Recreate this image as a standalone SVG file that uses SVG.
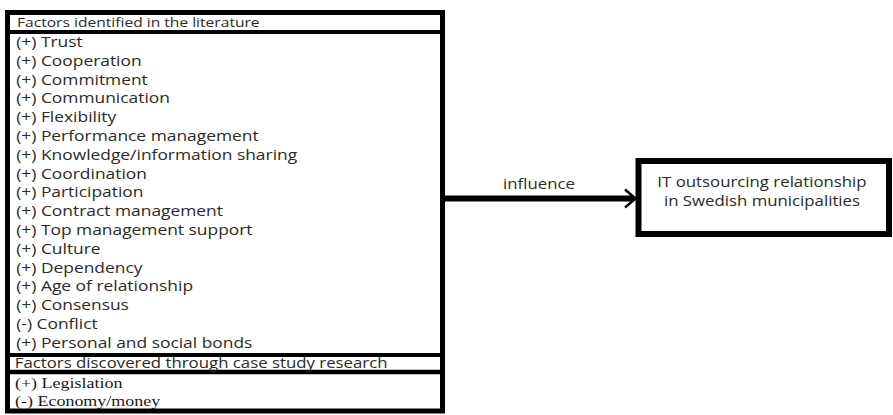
<svg xmlns="http://www.w3.org/2000/svg" width="893" height="415" viewBox="0 0 893 415">
<style>
.box{fill:#fff;stroke:#000}
.t{font-family:"Open Sans",sans-serif;font-size:14.5px;fill:#2b2b2b}
.h{font-family:"Open Sans",sans-serif;font-size:14px;fill:#2b2b2b}
.h1{font-family:"Open Sans",sans-serif;font-size:13px;fill:#2b2b2b}
.s{font-family:"Liberation Serif",serif;font-size:15px;fill:#1a1a1a}
</style>
<rect width="893" height="415" fill="#fff"/>
<g id="factors">
<rect class="box" x="7.5" y="12.5" width="435" height="398.5" stroke-width="5"/>
<line x1="8" y1="32" x2="442" y2="32" stroke="#000" stroke-width="4"/>
<line x1="8" y1="355" x2="442" y2="355" stroke="#000" stroke-width="4"/>
<line x1="8" y1="372" x2="442" y2="372" stroke="#000" stroke-width="4.5"/>
<g transform="scale(1.2 1)">
<text class="h1" x="14.2" y="27">Factors identified in the literature</text>
<text class="t" x="13.5" y="47">(+) Trust</text>
<text class="t" x="13.5" y="65.8">(+) Cooperation</text>
<text class="t" x="13.5" y="84.6">(+) Commitment</text>
<text class="t" x="13.5" y="103.4">(+) Communication</text>
<text class="t" x="13.5" y="122.2">(+) Flexibility</text>
<text class="t" x="13.5" y="141">(+) Performance management</text>
<text class="t" x="13.5" y="159.8">(+) Knowledge/information sharing</text>
<text class="t" x="13.5" y="178.6">(+) Coordination</text>
<text class="t" x="13.5" y="197.4">(+) Participation</text>
<text class="t" x="13.5" y="216.2">(+) Contract management</text>
<text class="t" x="13.5" y="235">(+) Top management support</text>
<text class="t" x="13.5" y="253.8">(+) Culture</text>
<text class="t" x="13.5" y="272.6">(+) Dependency</text>
<text class="t" x="13.5" y="291.4">(+) Age of relationship</text>
<text class="t" x="13.5" y="310.2">(+) Consensus</text>
<text class="t" x="13.5" y="329">(-) Conflict</text>
<text class="t" x="13.5" y="347.8">(+) Personal and social bonds</text>
<text class="h" x="12.3" y="368.5">Factors discovered through case study research</text>
<text class="s" x="12.5" y="388">(+) Legislation</text>
<text class="s" x="12.5" y="406">(-) Economy/money</text>
</g>
</g>
<g id="connectors">
<line x1="444" y1="198.5" x2="634" y2="198.5" stroke="#000" stroke-width="6"/>
<polyline points="625,189.5 635.5,198.5 625,207.5" fill="none" stroke="#000" stroke-width="2.5"/>
<text class="h" x="449.2" y="189" text-anchor="middle" transform="scale(1.2 1)">influence</text>
</g>
<g id="outcome">
<rect class="box" x="638.5" y="161" width="250.5" height="73" stroke-width="6"/>
<g transform="scale(1.2 1)">
<text class="h" x="635" y="187" text-anchor="middle">IT outsourcing relationship</text>
<text class="h" x="635" y="206" text-anchor="middle">in Swedish municipalities</text>
</g>
</g>
</svg>
